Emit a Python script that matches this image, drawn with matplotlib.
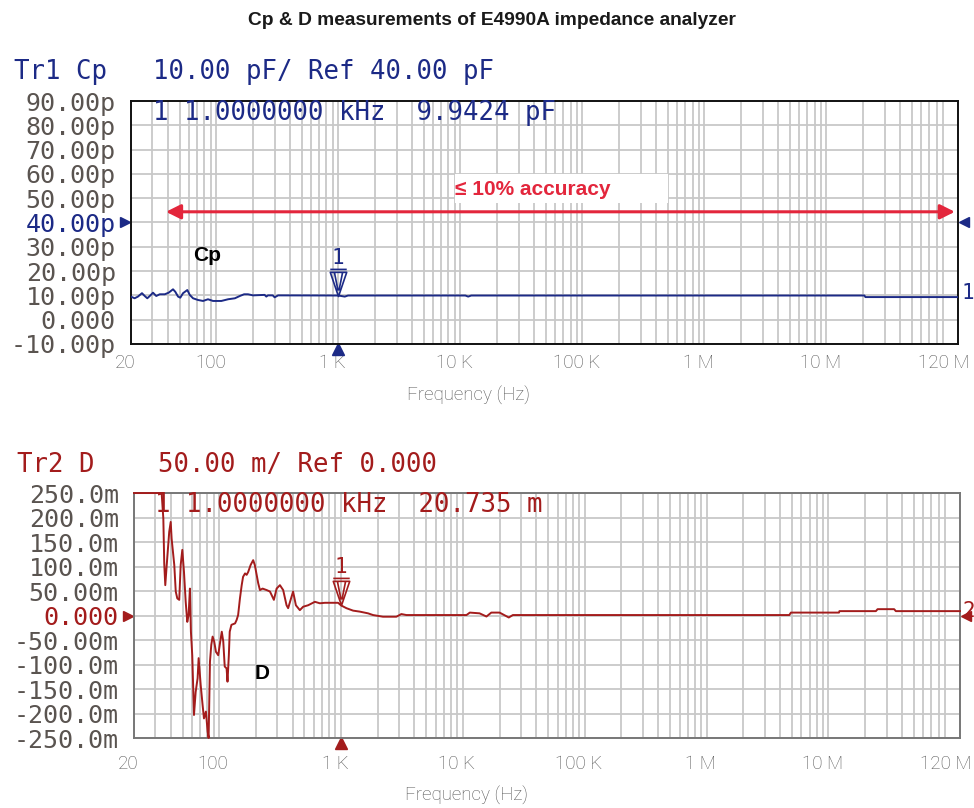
import numpy as np
import matplotlib
matplotlib.use('Agg')
import matplotlib.pyplot as plt
from matplotlib.path import Path
from matplotlib.patches import Rectangle
from matplotlib.ticker import FixedLocator, LogLocator, NullFormatter
from matplotlib.transforms import blended_transform_factory, ScaledTranslation

# Cp trace (Hz, pF)
cp_freq = [20, 21.4, 22.8, 24.6, 25.9, 27.2, 28.5, 30.3, 32.2, 34.4, 37.8, 40.7,
           44.2, 46.1, 48.6, 50.7, 53.4, 57.9, 60.6, 64.5, 70.8, 77.9, 85.5, 94,
           110, 125, 142, 156, 169, 182, 200, 249, 257, 265, 290, 301, 321,
           1000, 1130, 1202, 11000, 11600, 12300, 20.5e6, 20.9e6, 120e6]
cp_val = [9.47, 8.8, 9.5, 10.9, 9.75, 8.8, 9.75, 11.1, 9.75, 10.45, 10.45, 11.1,
          12.5, 11.5, 9.5, 9.05, 10.9, 12.2, 10.2, 8.8, 8.1, 7.7, 8.4, 7.7,
          7.7, 8.4, 8.8, 9.75, 10.45, 10.45, 10.0, 10.2, 9.5, 10.0, 10.0, 9.2, 10.0,
          9.94, 9.5, 9.94, 9.94, 9.5, 9.94, 9.94, 9.3, 9.3]

# D trace (Hz, m)
d_freq = [20, 33.7, 34.8, 35.4, 36.1, 37.1, 38.9, 40, 40.7, 42.8, 44, 45.3, 47,
          48.3, 49.8, 51.4, 53.1, 54.7, 56.1, 57.5, 58.6, 60.1, 62.1, 64.1, 66.5,
          67.8, 70.5, 73.1, 75, 77.8, 80.4, 81.9, 84, 86.1, 88.3, 91, 94, 98.2,
          101, 105, 108, 111, 115, 117, 120, 122, 126, 135, 139, 143, 148, 153,
          157, 163, 168, 173, 181, 190, 196, 203, 209, 216, 227, 245, 261, 281,
          296, 315, 335, 357, 368, 404, 426, 459, 489, 537, 610, 670, 736, 946,
          1000, 1107, 1256, 1424, 1664, 1830, 2208, 2844, 3126, 3436, 10.7e3,
          11.4e3, 13.7e3, 15.6e3, 17.1e3, 20e3, 23.8e3, 25.7e3, 4.77e6, 4.92e6,
          12.2e6, 12.3e6, 24.5e6, 25.3e6, 34.6e6, 35.7e6, 120e6]
d_val = [250, 250, 198, 106, 62, 103, 171, 191, 157, 103, 49, 35, 32,
         103, 134, 89, 28, -13, 1, 55, -33, -81, -203, -156, -128,
         -87, -142, -183, -210, -196, -237, -250, -94, -60, -43, -53, -74, -81,
         -60, -33, -53, -104, -108, -135, -81, -33, -19, -16, -9, 1, 35, 62,
         79, 86, 83, 89, 103, 113, 103, 83, 66, 52, 55, 52, 49, 32,
         55, 62, 52, 21, 15, 49, 21, 11, 18, 21, 28, 25, 26, 26,
         20.7, 15, 10, 8, 4.5, 1, -2.4, -2.4, 3, 1, 1,
         6, 4.5, -2, 6, 6, -4, 1, 1, 6,
         6, 9, 9, 13, 13, 9, 9]

freq_ticks = [20, 100, 1e3, 1e4, 1e5, 1e6, 1e7, 1.2e8]
freq_labels = ['20', '100', '1 K', '10 K', '100 K', '1 M', '10 M', '120 M']

cp_ticks = [-10, 0, 10, 20, 30, 40, 50, 60, 70, 80, 90]
cp_labels = ['-10.00p', '0.000', '10.00p', '20.00p', '30.00p', '40.00p',
             '50.00p', '60.00p', '70.00p', '80.00p', '90.00p']
d_ticks = [-250, -200, -150, -100, -50, 0, 50, 100, 150, 200, 250]
d_labels = ['-250.0m', '-200.0m', '-150.0m', '-100.0m', '-50.00m', '0.000',
            '50.00m', '100.0m', '150.0m', '200.0m', '250.0m']

marker_freq = 1000
cp_marker = 9.9424
d_marker = 20.735
cp_ref = 40
d_ref = 0
arrow_start, arrow_end, arrow_level = 38.7, 113e6, 44.4

navy = '#1c2a86'
darkred = '#a31c1c'
tickgray = '#5a5450'
mono = 'DejaVu Sans Mono'
sans = ['Liberation Sans', 'DejaVu Sans']
light = ['Roboto', 'DejaVu Sans']

fig = plt.figure(figsize=(9.74, 8.08), dpi=100)

fig.text(0.505, 0.975, 'Cp & D measurements of E4990A impedance analyzer',
         ha='center', va='center', fontsize=13.8, fontweight='bold',
         family=sans, color='#1a1a1a')

# triangle marker with apex at the data point
mk_path = Path([(-0.34, 1.0), (0.34, 1.0), (0, 0), (-0.34, 1.0),
                (-0.17, 1.0), (-0.02, 0.25), (0.17, 1.0), (0.02, 0.25),
                (-0.34, 1.12), (0.34, 1.12)],
               [Path.MOVETO, Path.LINETO, Path.LINETO, Path.CLOSEPOLY,
                Path.MOVETO, Path.LINETO, Path.MOVETO, Path.LINETO,
                Path.MOVETO, Path.LINETO])


def setup(ax, ticks, labels, ylim, color, ref, spine_color, xpad):
    ax.set_xscale('log')
    ax.set_xlim(20, 1.2e8)
    ax.set_ylim(*ylim)
    ax.xaxis.set_major_locator(FixedLocator(freq_ticks))
    ax.set_xticklabels(freq_labels)
    ax.xaxis.set_minor_locator(LogLocator(base=10, subs=np.arange(2, 10), numticks=100))
    ax.xaxis.set_minor_formatter(NullFormatter())
    ax.set_yticks(ticks)
    ax.set_yticklabels(labels)
    ax.tick_params(which='both', length=0)
    ax.tick_params(axis='y', pad=11)
    ax.tick_params(axis='x', pad=xpad)
    ax.grid(True, which='both', color='#c8c8c8', lw=1.3)
    ax.set_axisbelow(True)
    for s in ax.spines.values():
        s.set_color(spine_color)
        s.set_linewidth(1.4)
    for lab in ax.get_yticklabels():
        lab.set_family(mono)
        lab.set_fontsize(18)
        lab.set_color(tickgray)
    ax.get_yticklabels()[ticks.index(ref)].set_color(color)
    xlabs = ax.get_xticklabels()
    for i, lab in enumerate(xlabs):
        shift = -14 if i == len(xlabs) - 1 else -6
        off = ScaledTranslation(shift / 100, 0, fig.dpi_scale_trans)
        lab.set_family(light)
        lab.set_fontweight('light')
        lab.set_fontsize(13.5)
        lab.set_color('#555555')
        lab.set_transform(lab.get_transform() + off)
    ax.set_xlabel('Frequency (Hz)', family=light,
                  fontweight='light', fontsize=13.5, color='#555555')
    # reference and stimulus indicators
    bt = blended_transform_factory(ax.transAxes, ax.transData)
    ax.plot([-0.007], [ref], marker='>', ms=7, color=color, transform=bt, clip_on=False)
    ax.plot([1.007], [ref], marker='<', ms=7, color=color, transform=bt, clip_on=False)
    bx = blended_transform_factory(ax.transData, ax.transAxes)
    ax.plot([marker_freq], [-0.02], marker='^', ms=8, color=color,
            transform=bx, clip_on=False)


# ---- Cp ----
ax1 = fig.add_axes([0.1345, 0.5743, 0.8491, 0.3007])
setup(ax1, cp_ticks, cp_labels, (-10, 90), navy, cp_ref, '#111111', 7)
ax1.xaxis.set_label_coords(0.4075, -0.173)
ax1.plot(cp_freq, cp_val, color=navy, lw=1.4, zorder=3)
ax1.plot([marker_freq], [cp_marker], marker=mk_path, ms=39, mfc='none',
         mec=navy, mew=1.2, zorder=4)
ax1.annotate('1', (marker_freq, cp_marker), xytext=(0, 38),
             textcoords='offset pixels', ha='center', va='center',
             fontsize=15, color=navy, family=mono)

ax1.add_patch(Rectangle((0.392, 0.58), 0.257, 0.12, transform=ax1.transAxes,
                        facecolor='white', edgecolor='none', zorder=2))
ax1.annotate('', xy=(arrow_end, arrow_level), xytext=(arrow_start, arrow_level),
             arrowprops=dict(arrowstyle='<|-|>', color='#e3263c', lw=2.2,
                             mutation_scale=22, shrinkA=0, shrinkB=0), zorder=5)
ax1.text(0.392, 0.634, '\u2264 10% accuracy', transform=ax1.transAxes,
         ha='left', va='center', fontsize=15, fontweight='bold',
         family=sans, color='#e3263c', zorder=6)
ax1.text(0.075, 0.366, 'Cp', transform=ax1.transAxes, ha='left', va='center',
         fontsize=15, fontweight='bold', family=sans, color='black', zorder=6)

fig.text(14 / 974, 1 - 72 / 808, 'Tr1 Cp', family=mono, fontsize=18.5,
         color=navy, va='center')
fig.text(153 / 974, 1 - 72 / 808, '10.00 pF/ Ref 40.00 pF', family=mono,
         fontsize=18.5, color=navy, va='center')
fig.text(153 / 974, 1 - 113 / 808, '1 1.0000000 kHz  %.4f pF' % cp_marker,
         family=mono, fontsize=18.5, color=navy, va='center')
fig.text(961 / 974, 1 - 293 / 808, '1', family=mono, fontsize=15,
         color=navy, va='center')

# ---- D ----
ax2 = fig.add_axes([0.1376, 0.0866, 0.8480, 0.3032])
setup(ax2, d_ticks, d_labels, (-250, 250), darkred, d_ref, '#777777', 12)
ax2.xaxis.set_label_coords(0.402, -0.196)
ax2.plot(d_freq, d_val, color=darkred, lw=1.4, zorder=3, clip_on=False)
ax2.plot([marker_freq], [d_marker], marker=mk_path, ms=39, mfc='none',
         mec=darkred, mew=1.2, zorder=4)
ax2.annotate('1', (marker_freq, d_marker), xytext=(0, 38),
             textcoords='offset pixels', ha='center', va='center',
             fontsize=15, color=darkred, family=mono)
ax2.text(0.1465, 0.265, 'D', transform=ax2.transAxes, ha='left', va='center',
         fontsize=15, fontweight='bold', family=sans, color='black', zorder=6)

fig.text(17 / 974, 1 - 465 / 808, 'Tr2 D', family=mono, fontsize=18.5,
         color=darkred, va='center')
fig.text(158 / 974, 1 - 465 / 808, '50.00 m/ Ref 0.000', family=mono,
         fontsize=18.5, color=darkred, va='center')
fig.text(155 / 974, 1 - 505 / 808, '1 1.0000000 kHz  %.3f m' % d_marker,
         family=mono, fontsize=18.5, color=darkred, va='center')
fig.text(962 / 974, 1 - 611 / 808, '2', family=mono, fontsize=15,
         color=darkred, va='center')

fig.savefig('out.png', dpi=100)
